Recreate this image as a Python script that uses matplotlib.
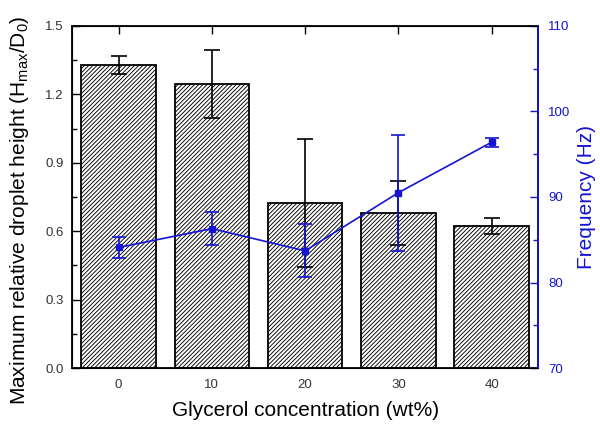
import matplotlib
matplotlib.use('Agg')
import matplotlib.pyplot as plt
import numpy as np

plt.rcParams['font.family'] = ['Liberation Sans', 'DejaVu Sans']
plt.rcParams['hatch.color'] = '#9a9a9a'
plt.rcParams['hatch.linewidth'] = 0.65

# 数据
glycerol = [0, 10, 20, 30, 40]
height = [1.33, 1.246, 0.725, 0.681, 0.623]
height_err = [0.04, 0.15, 0.28, 0.14, 0.037]
freq = [84.1, 86.3, 83.7, 90.5, 96.4]
freq_err = [1.2, 1.9, 3.1, 6.8, 0.5]

blue = '#1414d2'

fig = plt.figure(figsize=(6, 4.25), dpi=100)
ax1 = fig.add_axes([0.12, 0.134, 0.777, 0.805])

ax1.bar(glycerol, height, width=8, color='white', edgecolor='black',
        linewidth=1.3, hatch='////////', zorder=2)
ax1.errorbar(glycerol, height, yerr=height_err, fmt='none', ecolor='black',
             elinewidth=1.2, capsize=6, capthick=1.2, zorder=3)
ax1.set_xlim(-5, 45)
ax1.set_ylim(0, 1.5)
ax1.set_xticks(glycerol)
ax1.set_yticks(np.arange(0, 1.51, 0.3))
ax1.set_yticks(np.arange(0.15, 1.5, 0.3), minor=True)
ax1.yaxis.set_major_formatter(matplotlib.ticker.FormatStrFormatter('%.1f'))
ax1.tick_params(axis='both', direction='in', labelsize=9.5, labelcolor='#333333',
                length=6, width=1, top=True)
ax1.tick_params(axis='x', pad=8)
ax1.tick_params(axis='y', pad=6)
ax1.tick_params(axis='y', which='minor', direction='in', length=3.5, width=1)
ax1.set_xlabel('Glycerol concentration (wt%)', fontsize=15, labelpad=7)
ax1.set_ylabel('Maximum relative droplet height (H$_{\\mathregular{max}}$/D$_\\mathregular{0}$)',
               fontsize=15)
ax1.yaxis.set_label_coords(-0.088, 0.46)
for s in ax1.spines.values():
    s.set_linewidth(1.3)

ax2 = ax1.twinx()
ax2.errorbar(glycerol, freq, yerr=freq_err, color=blue, marker='s', markersize=5,
             linewidth=1.2, elinewidth=1.2, capsize=5, capthick=1.2, zorder=4)
ax2.set_ylim(70, 110)
ax2.set_yticks(np.arange(70, 111, 10))
ax2.set_yticks(np.arange(75, 110, 10), minor=True)
ax2.tick_params(axis='y', direction='in', colors=blue, labelsize=9.5,
                length=6, width=1, pad=7)
ax2.tick_params(axis='y', which='minor', direction='in', colors=blue, length=3.5, width=1)
ax2.set_ylabel('Frequency (Hz)', fontsize=15, color=blue, labelpad=5)
ax2.spines['right'].set_color(blue)
ax2.spines['right'].set_linewidth(1.3)

fig.savefig('out.png', dpi=100)
